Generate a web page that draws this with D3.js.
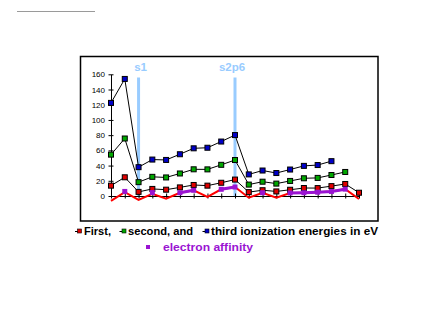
<!DOCTYPE html>
<html><head><meta charset="utf-8">
<script src="https://cdn.jsdelivr.net/npm/d3@7/dist/d3.min.js"></script>
<style>html,body{margin:0;padding:0;background:#fff;}svg{display:block;}</style>
</head><body>
<svg id="c" width="428" height="321"></svg>
<script>
// Data (x index = number of electrons - 1, isoelectronic sequence)
const idx = d3.range(19);
const firstIE  = [13.6, 24.6, 5.4, 9.3, 8.3, 11.3, 14.5, 13.6, 17.4, 21.6, 5.1, 7.6, 6.0, 8.2, 10.5, 10.4, 13.0, 15.8, 4.3];
const secondIE = [54.4, 75.6, 18.2, 25.2, 24.4, 29.6, 35.1, 35.0, 41.0, 47.3, 15.0, 18.8, 16.3, 19.8, 23.3, 23.8, 27.6, 31.6];
const thirdIE  = [122.4, 153.9, 37.9, 47.9, 47.4, 54.9, 62.7, 63.45, 71.6, 80.1, 28.4, 33.5, 30.2, 34.8, 39.6, 40.7, 45.8];
const eaLine   = [-6.5, 5, -5, 3, -3.5, 4.3, 7.5, -1.3, 8.8, 11.8, -2.2, 4.3, -2.2, 4, 4.3, 5, 6, 9, -4];
const eaPos    = [null, 6, null, 4.5, null, 4.3, 7.5, null, 8.8, 11.8, null, 4.3, null, 4, 4.3, 5, 6, 9, null];
const yTicks   = [0, 20, 40, 60, 80, 100, 120, 140, 160];
const markers  = [{i: 2, label: "s1", dx: 2}, {i: 9, label: "s2p6", dx: -3}];
const legend1  = [{t: "First,", c: "#e00000"}, {t: "second, and", c: "#00a800"}, {t: "third ionization energies in eV", c: "#0000c8"}];
const legend2  = {t: "electron affinity", c: "#9a14d2"};

const svg = d3.select("#c");
const x = d3.scaleLinear().domain([0, 18]).range([111, 359]);
const y = d3.scaleLinear().domain([0, 160]).range([196, 74.3]);

// top-left rule
svg.append("line").attr("x1", 17).attr("x2", 95).attr("y1", 11.5).attr("y2", 11.5)
  .attr("stroke", "#9a9a9a").attr("stroke-width", 1);

// frame
svg.append("rect").attr("x", 80.5).attr("y", 56.5).attr("width", 297.5).attr("height", 164.5)
  .attr("fill", "none").attr("stroke", "#000").attr("stroke-width", 1.5);

// vertical shell markers
markers.forEach(m => {
  svg.append("line").attr("x1", x(m.i)).attr("x2", x(m.i)).attr("y1", 77.5).attr("y2", y(0))
    .attr("stroke", "#99ccff").attr("stroke-width", 3);
  svg.append("text").attr("x", x(m.i) + m.dx).attr("y", 70.5).attr("text-anchor", "middle")
    .attr("font-family", "Liberation Sans, Arial, sans-serif").attr("font-weight", "bold")
    .attr("font-size", 11.5).attr("fill", "#99ccff").text(m.label);
});

// y axis
const ya = svg.append("g").attr("transform", `translate(${x(0)},0)`)
  .call(d3.axisLeft(y).tickValues(yTicks).tickSize(0).tickPadding(6));
ya.select(".domain").attr("stroke", "#000");
ya.selectAll("text").attr("font-family", "Liberation Sans, Arial, sans-serif").attr("font-size", 8).attr("fill", "#000");
ya.selectAll(".tick").append("line").attr("x1", -2.5).attr("x2", 2.5).attr("stroke", "#000");

// x axis at zero
const xa = svg.append("g").attr("transform", `translate(0,${y(0)})`)
  .call(d3.axisBottom(x).tickValues(idx).tickSize(0).tickFormat(""));
xa.select(".domain").attr("stroke", "#000");
xa.selectAll(".tick").append("line").attr("y1", -2.5).attr("y2", 2.5).attr("stroke", "#000");

// EA red line
const line = d3.line().defined(d => d != null).x((d, i) => x(i)).y(d => y(d));
svg.append("path").datum(eaLine).attr("d", line).attr("fill", "none")
  .attr("stroke", "#ff0000").attr("stroke-width", 2);

// IE series
function series(vals, color) {
  svg.append("path").datum(vals).attr("d", line).attr("fill", "none")
    .attr("stroke", "#000").attr("stroke-width", 1);
  svg.append("g").selectAll("rect").data(vals).join("rect")
    .attr("x", (d, i) => x(i) - 2.5).attr("y", d => y(d) - 2.5)
    .attr("width", 5).attr("height", 5).attr("fill", color)
    .attr("stroke", "#000").attr("stroke-width", 1);
}
series(firstIE, legend1[0].c);
series(secondIE, legend1[1].c);
series(thirdIE, legend1[2].c);

// EA positive (purple)
svg.append("path").datum(eaPos).attr("d", line).attr("fill", "none")
  .attr("stroke", legend2.c).attr("stroke-width", 3);
svg.append("g").selectAll("rect").data(eaPos.map((v, i) => ({v, i})).filter(d => d.v != null)).join("rect")
  .attr("x", d => x(d.i) - 2.5).attr("y", d => y(d.v) - 2.5)
  .attr("width", 5).attr("height", 5).attr("fill", legend2.c);

// legend
const lx = [79, 123.5, 206.5], tx = [84, 128, 211], tw = [27, 65, 167];
legend1.forEach((d, k) => {
  svg.append("line").attr("x1", lx[k] - 4).attr("x2", lx[k]).attr("y1", 231.5).attr("y2", 231.5).attr("stroke", "#000");
  svg.append("rect").attr("x", lx[k] - 1.5).attr("y", 229).attr("width", 4).attr("height", 4)
    .attr("fill", d.c).attr("stroke", "#000").attr("stroke-width", 0.6);
  svg.append("text").attr("x", tx[k]).attr("y", 234.5).attr("textLength", tw[k]).attr("lengthAdjust", "spacingAndGlyphs")
    .attr("font-family", "Liberation Sans, Arial, sans-serif").attr("font-weight", "bold").attr("font-size", 10.5)
    .attr("fill", "#000").text(d.t);
});
svg.append("rect").attr("x", 146).attr("y", 245).attr("width", 4).attr("height", 4).attr("fill", legend2.c);
svg.append("text").attr("x", 163).attr("y", 250.5).attr("textLength", 90).attr("lengthAdjust", "spacingAndGlyphs")
  .attr("font-family", "Liberation Sans, Arial, sans-serif").attr("font-weight", "bold").attr("font-size", 10.5)
  .attr("fill", legend2.c).text(legend2.t);
</script>
</body></html>
